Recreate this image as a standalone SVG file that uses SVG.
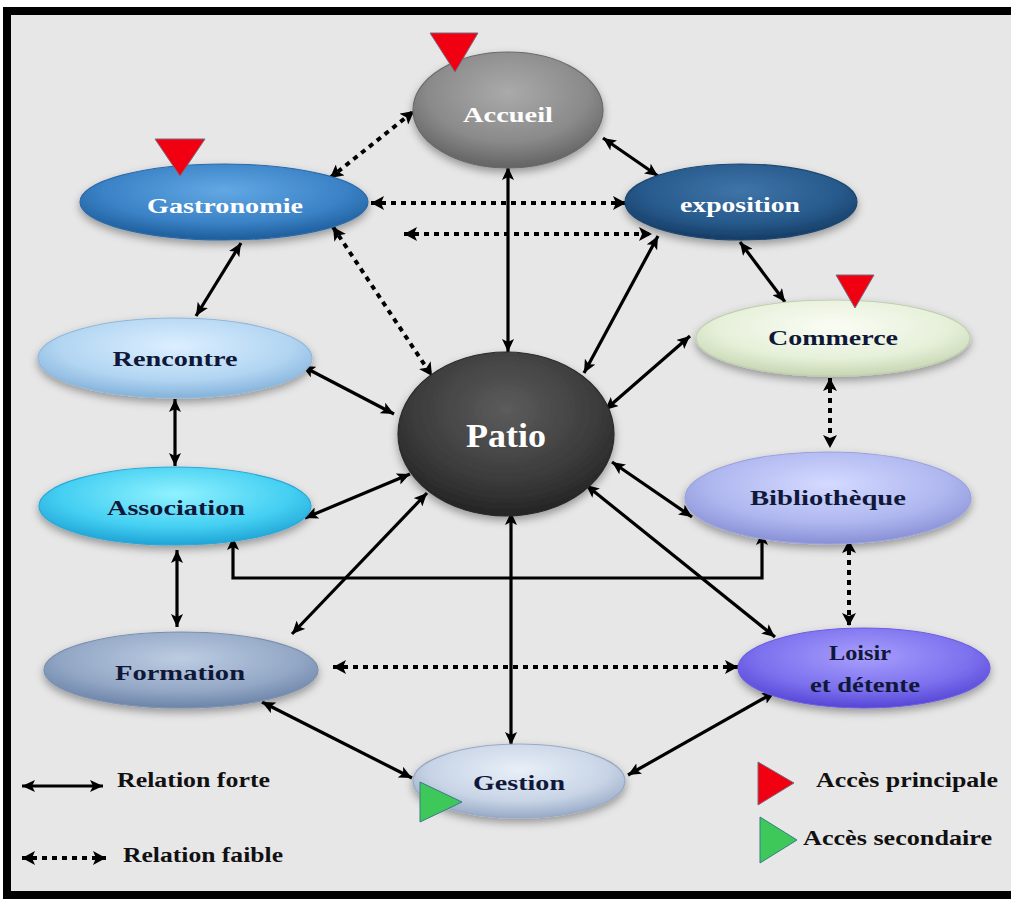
<svg xmlns="http://www.w3.org/2000/svg" width="1011" height="902" viewBox="0 0 1011 902">
<style>
.lbl{font-family:"Liberation Serif","Times New Roman",serif;font-weight:bold;font-size:22px;text-anchor:middle}
.w{fill:#ffffff}
.d{fill:#0f1838}
.leg{font-family:"Liberation Serif","Times New Roman",serif;font-weight:bold;font-size:20px;fill:#111}
.s{fill:none;stroke:#000;stroke-width:3.2;marker-start:url(#ah);marker-end:url(#ah)}
.t{fill:none;stroke:#000;stroke-width:4;stroke-dasharray:5 5;marker-start:url(#ah2);marker-end:url(#ah2)}
.node ellipse{filter:url(#sh);stroke-width:1.2}
.red{fill:#f00010;stroke:#7a6a80;stroke-width:1}
.green{fill:#3ec85a;stroke:#3a7a8a;stroke-width:1}
</style>
<defs>
<marker id="ah" markerUnits="userSpaceOnUse" markerWidth="14" markerHeight="12" refX="13" refY="6" orient="auto-start-reverse"><path d="M0,0 L13,6 L0,12 L3,6 z" fill="#000"/></marker>
<marker id="ah2" markerUnits="userSpaceOnUse" markerWidth="14" markerHeight="14" refX="13" refY="7" orient="auto-start-reverse"><path d="M0,0 L13,7 L0,14 L3,7 z" fill="#000"/></marker>
<filter id="sh" x="-20%" y="-20%" width="140%" height="150%"><feDropShadow dx="0" dy="4" stdDeviation="4" flood-color="#000" flood-opacity="0.35"/></filter>
<radialGradient id="gAcc" cx="50%" cy="35%" r="65%"><stop offset="0" stop-color="#aaaaaa"/><stop offset="0.65" stop-color="#8a8a8a"/><stop offset="1" stop-color="#636363"/></radialGradient>
<radialGradient id="gGas" cx="50%" cy="35%" r="65%"><stop offset="0" stop-color="#62a8e4"/><stop offset="0.65" stop-color="#3a82c6"/><stop offset="1" stop-color="#1d5c9a"/></radialGradient>
<radialGradient id="gExp" cx="50%" cy="35%" r="65%"><stop offset="0" stop-color="#3f74a8"/><stop offset="0.65" stop-color="#275a8c"/><stop offset="1" stop-color="#153c64"/></radialGradient>
<radialGradient id="gRen" cx="50%" cy="35%" r="65%"><stop offset="0" stop-color="#dcefff"/><stop offset="0.65" stop-color="#b2d5f2"/><stop offset="1" stop-color="#84b2da"/></radialGradient>
<radialGradient id="gCom" cx="50%" cy="35%" r="65%"><stop offset="0" stop-color="#fafdf5"/><stop offset="0.65" stop-color="#e6f0d9"/><stop offset="1" stop-color="#c6d6b2"/></radialGradient>
<radialGradient id="gPat" cx="50%" cy="35%" r="65%"><stop offset="0" stop-color="#5c5c5c"/><stop offset="0.65" stop-color="#3c3c3c"/><stop offset="1" stop-color="#242424"/></radialGradient>
<radialGradient id="gAss" cx="50%" cy="35%" r="65%"><stop offset="0" stop-color="#90f2ff"/><stop offset="0.65" stop-color="#44cff2"/><stop offset="1" stop-color="#1fa4d6"/></radialGradient>
<radialGradient id="gBib" cx="50%" cy="35%" r="65%"><stop offset="0" stop-color="#d4daff"/><stop offset="0.65" stop-color="#aeb6ef"/><stop offset="1" stop-color="#8890d6"/></radialGradient>
<radialGradient id="gFor" cx="50%" cy="35%" r="65%"><stop offset="0" stop-color="#bccce2"/><stop offset="0.65" stop-color="#94a8c6"/><stop offset="1" stop-color="#6c84a8"/></radialGradient>
<radialGradient id="gLoi" cx="50%" cy="35%" r="65%"><stop offset="0" stop-color="#a89ffc"/><stop offset="0.65" stop-color="#7c70ee"/><stop offset="1" stop-color="#5646d6"/></radialGradient>
<radialGradient id="gGes" cx="50%" cy="35%" r="65%"><stop offset="0" stop-color="#e8eff8"/><stop offset="0.65" stop-color="#c8d4e6"/><stop offset="1" stop-color="#98aac6"/></radialGradient>
</defs>
<rect x="0" y="0" width="1011" height="902" fill="#ffffff"/>
<rect x="7" y="11" width="1012" height="884" fill="#e8e7e8" stroke="#000" stroke-width="8"/>

<g id="connectors">
<line class="s" x1="603" y1="138" x2="658" y2="176"/>
<line class="s" x1="508" y1="167" x2="508" y2="352"/>
<line class="s" x1="241" y1="243" x2="196" y2="316"/>
<line class="s" x1="658" y1="236" x2="584" y2="373"/>
<line class="s" x1="740" y1="242" x2="785" y2="302"/>
<line class="s" x1="302" y1="366" x2="394" y2="414"/>
<line class="s" x1="690" y1="336" x2="605" y2="410"/>
<line class="s" x1="175" y1="399" x2="175" y2="466"/>
<line class="s" x1="305" y1="518" x2="410" y2="474"/>
<line class="s" x1="612" y1="462" x2="692" y2="517"/>
<polyline class="s" points="233,537 233,578 762,578 762,532"/>
<line class="s" x1="177" y1="550" x2="177" y2="627"/>
<line class="s" x1="292" y1="634" x2="427" y2="493"/>
<line class="s" x1="511" y1="512" x2="511" y2="745"/>
<line class="s" x1="586" y1="485" x2="775" y2="637"/>
<line class="s" x1="262" y1="702" x2="412" y2="778"/>
<line class="s" x1="628" y1="775" x2="775" y2="692"/>
<line class="t" x1="330" y1="178" x2="414" y2="111"/>
<line class="t" x1="371" y1="203" x2="626" y2="203"/>
<line class="t" x1="404" y1="234" x2="652" y2="234"/>
<line class="t" x1="333" y1="227" x2="432" y2="376"/>
<line class="t" x1="830" y1="378" x2="830" y2="448"/>
<line class="t" x1="849" y1="540" x2="849" y2="626"/>
<line class="t" x1="333" y1="667" x2="738" y2="667"/>
</g>

<g id="accueil" class="node"><ellipse cx="508" cy="110" rx="95" ry="58" fill="url(#gAcc)" stroke="#6a6a6a"/><text class="lbl w" x="508" y="122" textLength="90" lengthAdjust="spacingAndGlyphs">Accueil</text><polygon class="red" points="430,33 478,33 455,72"/></g>
<g id="gastronomie" class="node"><ellipse cx="224" cy="202" rx="144" ry="38" fill="url(#gGas)" stroke="#2a6aa8"/><text class="lbl w" x="225" y="213" textLength="156" lengthAdjust="spacingAndGlyphs">Gastronomie</text><polygon class="red" points="155,139 205,139 180,176"/></g>
<g id="exposition" class="node"><ellipse cx="741" cy="202" rx="116" ry="38" fill="url(#gExp)" stroke="#1c4670"/><text class="lbl w" x="740" y="212" textLength="120" lengthAdjust="spacingAndGlyphs">exposition</text></g>
<g id="rencontre" class="node"><ellipse cx="175" cy="358" rx="137" ry="40" fill="url(#gRen)" stroke="#90b8da"/><text class="lbl d" x="175" y="366" textLength="125" lengthAdjust="spacingAndGlyphs">Rencontre</text></g>
<g id="commerce" class="node"><ellipse cx="833" cy="338" rx="137" ry="38" fill="url(#gCom)" stroke="#c0cfb0"/><text class="lbl d" x="833" y="345" textLength="130" lengthAdjust="spacingAndGlyphs">Commerce</text><polygon class="red" points="836,275 874,275 855,308"/></g>
<g id="patio" class="node"><ellipse cx="506" cy="434" rx="108" ry="82" fill="url(#gPat)" stroke="#2a2a2a"/><text class="lbl w" x="506" y="447" style="font-size:34px" textLength="80" lengthAdjust="spacingAndGlyphs">Patio</text></g>
<g id="association" class="node"><ellipse cx="175" cy="506" rx="136" ry="39" fill="url(#gAss)" stroke="#2aa8d8"/><text class="lbl d" x="176" y="515" textLength="138" lengthAdjust="spacingAndGlyphs">Association</text></g>
<g id="bibliotheque" class="node"><ellipse cx="828" cy="498" rx="143" ry="46" fill="url(#gBib)" stroke="#9aa2de"/><text class="lbl d" x="828" y="505" textLength="156" lengthAdjust="spacingAndGlyphs">Bibliothèque</text></g>
<g id="formation" class="node"><ellipse cx="181" cy="670" rx="137" ry="38" fill="url(#gFor)" stroke="#7a90b0"/><text class="lbl d" x="180" y="680" textLength="130" lengthAdjust="spacingAndGlyphs">Formation</text></g>
<g id="loisir" class="node"><ellipse cx="864" cy="668" rx="126" ry="40" fill="url(#gLoi)" stroke="#6a5ee0"/><text class="lbl d" x="860" y="660" textLength="62" lengthAdjust="spacingAndGlyphs">Loisir</text><text class="lbl d" x="865" y="692" textLength="110" lengthAdjust="spacingAndGlyphs">et détente</text></g>
<g id="gestion" class="node"><ellipse cx="519" cy="781" rx="106" ry="37" fill="url(#gGes)" stroke="#9aaac4"/><text class="lbl d" x="519" y="790" textLength="92" lengthAdjust="spacingAndGlyphs">Gestion</text><polygon class="green" points="420,782 420,822 462,802"/></g>

<g id="legend">
<line class="s" x1="22" y1="786" x2="103" y2="786"/>
<text class="leg" x="117" y="787" textLength="153" lengthAdjust="spacingAndGlyphs">Relation forte</text>
<line class="t" x1="22" y1="858" x2="106" y2="858"/>
<text class="leg" x="123" y="862" textLength="160" lengthAdjust="spacingAndGlyphs">Relation faible</text>
<polygon class="red" points="758,762 758,805 794,783"/>
<text class="leg" x="816" y="787" textLength="182" lengthAdjust="spacingAndGlyphs">Accès principale</text>
<polygon class="green" points="760,817 760,863 797,840"/>
<text class="leg" x="803" y="845" textLength="189" lengthAdjust="spacingAndGlyphs">Accès secondaire</text>
</g>
</svg>
